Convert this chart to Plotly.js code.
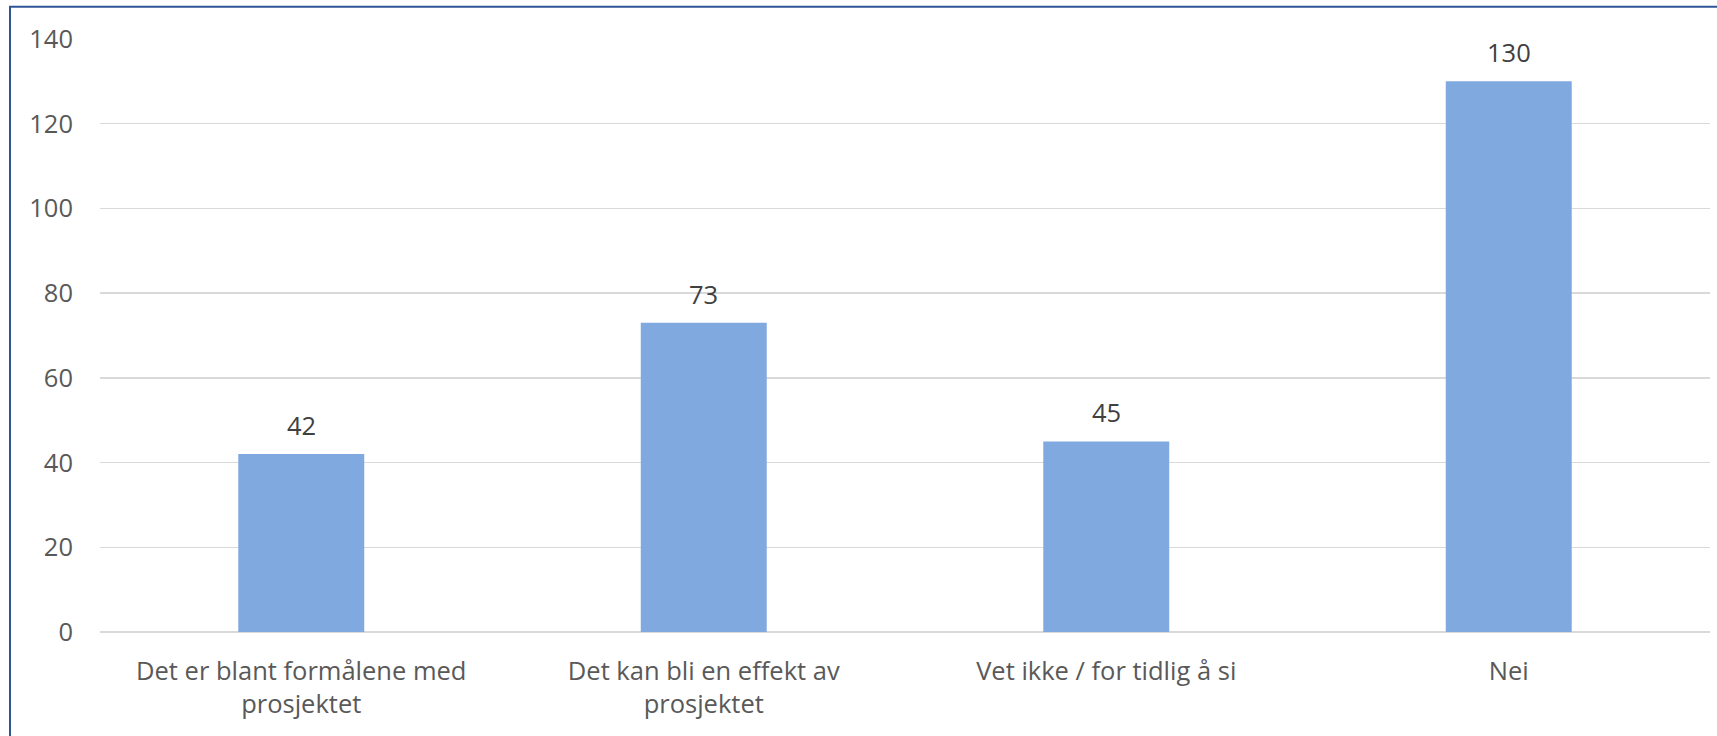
<!DOCTYPE html>
<html>
<head>
<meta charset="utf-8">
<script src="https://cdn.plot.ly/plotly-3.0.1.min.js"></script>
<style>
html, body { margin: 0; padding: 0; background: #ffffff; }
#chart { width: 1717px; height: 736px; }
</style>
</head>
<body>
<div id="chart"></div>
<script>
var categories = [
  "Det er blant formålene med<br>prosjektet",
  "Det kan bli en effekt av<br>prosjektet",
  "Vet ikke / for tidlig å si",
  "Nei"
];
var values = [42, 73, 45, 130];
var yTicks = [0, 20, 40, 60, 80, 100, 120, 140];

var trace = {
  type: "bar",
  x: categories,
  y: values,
  marker: { color: "#80A9E0", line: { width: 0 } },
  hoverinfo: "x+y"
};

var annotations = categories.map(function (c, i) {
  return {
    x: c, y: values[i], xref: "x", yref: "y",
    text: String(values[i]),
    showarrow: false,
    yanchor: "middle",
    yshift: 29,
    font: { family: "Open Sans", size: 25.5, color: "#404040" }
  };
});

var layout = {
  width: 1717, height: 736,
  margin: { l: 100, r: 7, t: 39, b: 104 },
  paper_bgcolor: "#ffffff",
  plot_bgcolor: "#ffffff",
  bargap: 0.687,
  showlegend: false,
  font: { family: "Open Sans", size: 25.5, color: "#595959" },
  xaxis: {
    type: "category",
    showgrid: false,
    showline: false,
    zeroline: false,
    ticks: "",
    ticklabelstandoff: 21,
    tickfont: { family: "Open Sans", size: 25.5, color: "#595959" }
  },
  yaxis: {
    range: [0, 140],
    tickvals: yTicks,
    ticktext: yTicks.map(String),
    showgrid: true,
    gridcolor: "#D9D9D9",
    gridwidth: 1.5,
    zeroline: true,
    zerolinecolor: "#D9D9D9",
    zerolinewidth: 1.5,
    showline: false,
    ticks: "",
    ticklabelstandoff: 26,
    tickfont: { family: "Open Sans", size: 25.5, color: "#595959" }
  },
  annotations: annotations,
  shapes: [{
    type: "rect", xref: "paper", yref: "paper",
    x0: -0.0559, x1: 1.05, y0: -0.3, y1: 1.0545,
    line: { color: "#2F5597", width: 2 },
    fillcolor: "rgba(0,0,0,0)",
    layer: "above"
  }]
};

Plotly.newPlot("chart", [trace], layout, { displayModeBar: false, staticPlot: true });
</script>
</body>
</html>
